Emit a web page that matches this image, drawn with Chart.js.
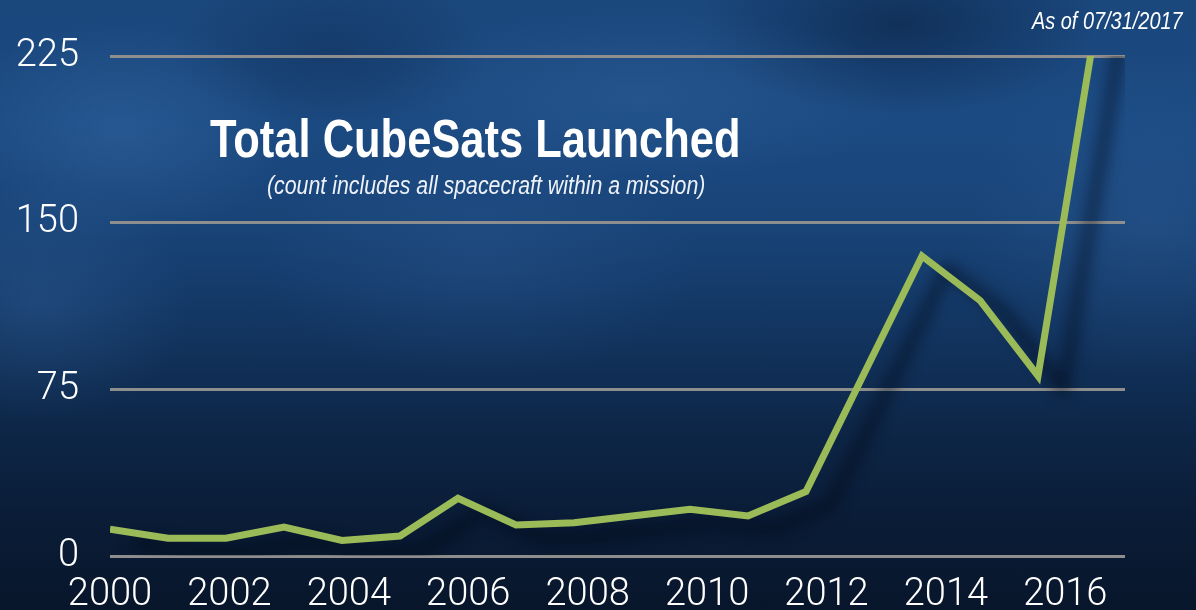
<!DOCTYPE html>
<html>
<head>
<meta charset="utf-8">
<script src="https://cdn.jsdelivr.net/npm/chart.js@4/dist/chart.umd.min.js"></script>
<style>
  html, body { margin: 0; padding: 0; }
  body {
    width: 1196px; height: 610px; overflow: hidden; position: relative;
    background-color: #0f2a50;
    background-image:
      radial-gradient(ellipse 170px 110px at 120px 130px, rgba(70,120,180,0.30), rgba(70,120,180,0) 100%),
      radial-gradient(ellipse 150px 120px at 40px 300px, rgba(60,110,170,0.28), rgba(60,110,170,0) 100%),
      radial-gradient(ellipse 260px 90px at 640px 95px, rgba(70,120,180,0.22), rgba(70,120,180,0) 100%),
      radial-gradient(ellipse 220px 120px at 480px 260px, rgba(60,110,175,0.20), rgba(60,110,175,0) 100%),
      radial-gradient(ellipse 200px 90px at 900px 25px, rgba(5,20,45,0.45), rgba(5,20,45,0) 100%),
      radial-gradient(ellipse 180px 160px at 1150px 220px, rgba(60,110,170,0.22), rgba(60,110,170,0) 100%),
      radial-gradient(ellipse 160px 80px at 330px 50px, rgba(10,30,60,0.30), rgba(10,30,60,0) 100%),
      linear-gradient(180deg, #1a477c 0%, #1b4a82 20%, #184377 38%, #12345f 55%, #0d2545 72%, #0a1c36 86%, #08162b 100%);
  }
  #wrap { position: absolute; left: 0; top: 0; width: 1196px; height: 610px; }
  .txt { position: absolute; color: #fff; white-space: nowrap; transform-origin: 0 0; line-height: 1; font-family: "Liberation Sans", Arial, sans-serif; }
  #title { left: 210px; top: 112px; font-size: 53px; font-weight: bold; transform: scaleX(0.82); }
  #subtitle { left: 267px; top: 172px; font-size: 26px; font-style: italic; transform: scaleX(0.82); color: #eef2f8; }
  #asof { left: 1032px; top: 9px; font-size: 24px; font-style: italic; transform: scaleX(0.83); }
</style>
</head>
<body>
<div id="wrap"><canvas id="chart" width="1196" height="610"></canvas></div>
<div class="txt" id="title">Total CubeSats Launched</div>
<div class="txt" id="subtitle">(count includes all spacecraft within a mission)</div>
<div class="txt" id="asof">As of 07/31/2017</div>
<script>
// Launch years and number of CubeSats launched in each year
const years = [2000, 2001, 2002, 2003, 2004, 2005, 2006, 2007, 2008, 2009, 2010, 2011, 2012, 2013, 2014, 2015, 2016, 2017];
const launched = [12, 8, 8, 13, 7, 9, 26, 14, 15, 18, 21, 18, 29, 82, 135, 115, 81, 240];

// Axis ticks
const yTicks = [0, 75, 150, 225];
const yearLabels = [2000, 2002, 2004, 2006, 2008, 2010, 2012, 2014, 2016];

const points = years.map((yr, i) => ({ x: yr, y: launched[i] }));

// Soft dark shadow cast by the line
const lineShadow = {
  id: 'lineShadow',
  beforeDatasetDraw(chart) {
    const ctx = chart.ctx;
    ctx.save();
    ctx.shadowColor = 'rgba(2, 8, 20, 0.8)';
    ctx.shadowBlur = 15;
    ctx.shadowOffsetX = 25;
    ctx.shadowOffsetY = 13;
  },
  afterDatasetDraw(chart) {
    chart.ctx.restore();
  }
};

const tickFont = { family: 'Roboto, "Liberation Sans", sans-serif', size: 38, weight: 300 };

new Chart(document.getElementById('chart'), {
  type: 'line',
  data: {
    datasets: [{
      data: points,
      xAxisID: 'x',
      yAxisID: 'y',
      borderColor: '#9bbb59',
      borderWidth: 7,
      pointRadius: 0,
      tension: 0,
      clip: 0,
      fill: false
    }]
  },
  plugins: [lineShadow],
  options: {
    responsive: false,
    animation: false,
    layout: { padding: { left: 0, right: 71, top: 56, bottom: 0 } },
    plugins: { legend: { display: false }, tooltip: { enabled: false }, title: { display: false } },
    scales: {
      x: {
        type: 'linear',
        display: false,
        min: 2000,
        max: 2017.5
      },
      years: {
        type: 'linear',
        position: 'bottom',
        min: 2000,
        max: 2017,
        afterFit(scale) { scale.height = 54; },
        afterBuildTicks(scale) { scale.ticks = yearLabels.map(v => ({ value: v })); },
        grid: { display: false, drawTicks: false },
        border: { display: false },
        ticks: {
          color: '#ffffff',
          font: tickFont,
          padding: 17,
          maxRotation: 0,
          autoSkip: false,
          callback: v => String(v)
        }
      },
      y: {
        min: 0,
        max: 225,
        afterFit(scale) { scale.width = 110; },
        afterBuildTicks(scale) { scale.ticks = yTicks.map(v => ({ value: v })); },
        grid: { color: '#8e8e8e', lineWidth: 3, drawTicks: false },
        border: { display: false },
        ticks: {
          color: '#ffffff',
          font: tickFont,
          padding: 31,
          callback: v => String(v)
        }
      }
    }
  }
});
</script>
</body>
</html>
